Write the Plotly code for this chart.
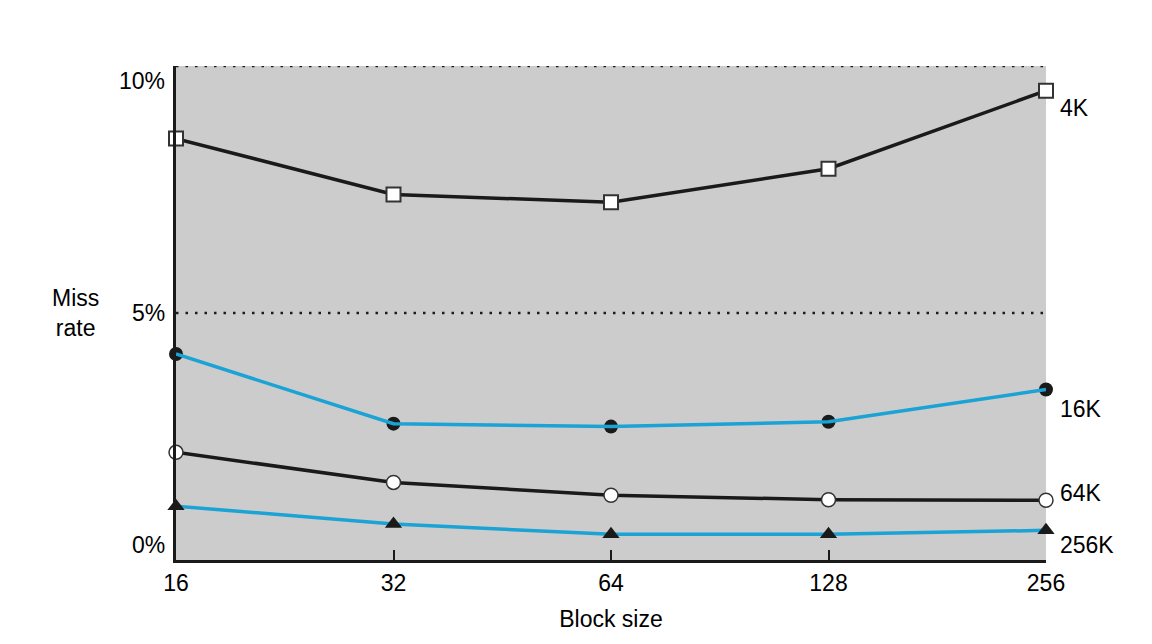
import plotly.graph_objects as go

block_sizes = ["16", "32", "64", "128", "256"]
x_pos = [0, 1, 2, 3, 4]
miss_4k = [8.53, 7.40, 7.24, 7.92, 9.50]
miss_16k = [4.17, 2.76, 2.70, 2.80, 3.45]
miss_64k = [2.18, 1.57, 1.31, 1.22, 1.21]
miss_256k = [1.09, 0.73, 0.52, 0.52, 0.60]
series_names = ["4K", "16K", "64K", "256K"]
y_ticks = [0, 5, 10]
y_tick_labels = ["0%", "5%", "10%"]
dotted_levels = [5, 10]

BLACK = "#1a1a1a"
BLUE = "#1aa3d4"
FONT = "Liberation Sans, Arial, Helvetica, sans-serif"
FS = 23

fig = go.Figure()

fig.add_trace(go.Scatter(
    x=x_pos, y=miss_4k, mode="lines+markers", name=series_names[0],
    line=dict(color=BLACK, width=3.5),
    marker=dict(symbol="square", size=14, color="white", line=dict(color="#333333", width=2)),
    cliponaxis=False))
fig.add_trace(go.Scatter(
    x=x_pos, y=miss_16k, mode="markers", showlegend=False,
    marker=dict(symbol="circle", size=14, color=BLACK, line=dict(width=0)),
    cliponaxis=False))
fig.add_trace(go.Scatter(
    x=x_pos, y=miss_16k, mode="lines", name=series_names[1],
    line=dict(color=BLUE, width=3.5), cliponaxis=False))
fig.add_trace(go.Scatter(
    x=x_pos, y=miss_64k, mode="lines+markers", name=series_names[2],
    line=dict(color=BLACK, width=3.5),
    marker=dict(symbol="circle", size=14, color="white", line=dict(color="#333333", width=1.5)),
    cliponaxis=False))
fig.add_trace(go.Scatter(
    x=x_pos, y=miss_256k, mode="lines", name=series_names[3],
    line=dict(color=BLUE, width=3.5), cliponaxis=False))
fig.add_trace(go.Scatter(
    x=x_pos, y=miss_256k, mode="markers", showlegend=False,
    marker=dict(symbol="triangle-up", size=15, color=BLACK, line=dict(width=0)),
    cliponaxis=False))

# dotted reference lines
for lv in dotted_levels:
    fig.add_shape(type="line", xref="x", yref="y", x0=0, x1=4, y0=lv, y1=lv,
                  line=dict(color=BLACK, width=2.5, dash="2.5px,7px"), layer="below")

# series labels on the right
label_y = [miss_4k[-1] - 0.35, miss_16k[-1] - 0.4, miss_64k[-1] + 0.15, miss_256k[-1] - 0.3]
for name, yv in zip(series_names, label_y):
    fig.add_annotation(x=4, y=yv, text=name, showarrow=False, xanchor="left",
                       xshift=12, font=dict(size=FS, color="black", family=FONT))

# y tick labels
label_offsets = [0.3, 0, -0.3]
for v, lab, off in zip(y_ticks, y_tick_labels, label_offsets):
    fig.add_annotation(x=0, xref="x", y=v + off, text=lab, showarrow=False,
                       xanchor="right", xshift=-9,
                       font=dict(size=FS, color="black", family=FONT))

fig.add_annotation(x=-0.116, xref="paper", y=0.5, yref="paper", text="Miss<br>rate",
                   showarrow=False, xanchor="center", yanchor="middle", yshift=0,
                   font=dict(size=FS, color="black", family=FONT))

fig.update_layout(
    width=1144, height=636,
    margin=dict(l=168, r=106, t=58, b=84),
    paper_bgcolor="white", plot_bgcolor="#cccccc",
    showlegend=False,
    font=dict(family=FONT, size=FS, color="black"),
    xaxis=dict(
        range=[0, 4], tickvals=x_pos, ticktext=block_sizes,
        showgrid=False, zeroline=False,
        showline=True, linecolor=BLACK, linewidth=3,
        ticks="inside", ticklen=10, tickwidth=2, tickcolor=BLACK,
        tickfont=dict(size=FS, color="black", family=FONT),
        title=dict(text="Block size", font=dict(size=FS, color="black", family=FONT), standoff=17),
    ),
    yaxis=dict(
        range=[0, 10], tickvals=y_ticks, showticklabels=False,
        showgrid=False, zeroline=False, showline=True, linecolor=BLACK, linewidth=3,
        ticks="",
    ),
)

fig.write_html("out.html")
